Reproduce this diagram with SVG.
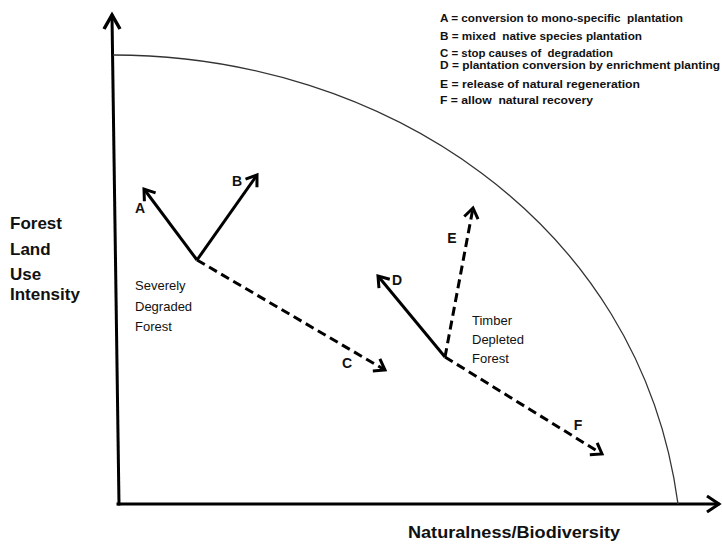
<svg xmlns="http://www.w3.org/2000/svg" width="722" height="546" viewBox="0 0 722 546">
<style>
.ax{stroke:#000;stroke-width:3;fill:none;stroke-linecap:square}
.arr{stroke:#000;stroke-width:3;fill:none}
.dash{stroke-dasharray:9,5}
.curve{stroke:#333;stroke-width:1.3;fill:none}
.lbl{font-family:"Liberation Sans",Arial,sans-serif;font-size:14px;font-weight:bold;fill:#111;text-anchor:middle}
.node{font-family:"Liberation Sans",Arial,sans-serif;font-size:13px;fill:#111}
.axl{font-family:"Liberation Sans",Arial,sans-serif;font-size:17px;font-weight:bold;fill:#111}
.leg{font-family:"Liberation Sans",Arial,sans-serif;font-size:10px;font-weight:bold;fill:#111;white-space:pre}
</style>
<defs>
<marker id="head" markerUnits="userSpaceOnUse" markerWidth="30" markerHeight="30" refX="0" refY="0" viewBox="-15 -15 30 30" orient="auto" overflow="visible">
<path d="M-10,-7 L0,0 L-10,7" fill="none" stroke="#000" stroke-width="3" stroke-dasharray="none" stroke-linejoin="miter"/>
</marker>
</defs>
<rect width="722" height="546" fill="#fff"/>
<g id="axes">
<path class="ax" d="M119,504 L112,16"/>
<path d="M104,29 L112,15 L120,29" fill="none" stroke="#000" stroke-width="3.5"/>
<path class="ax" d="M118,504 L718,504"/>
<path d="M707,496 L719,504 L707,512" fill="none" stroke="#000" stroke-width="3"/>
<path id="frontier" class="curve" d="M113,55 C380,55 640,220 678,504"/>
</g>
<g id="axis-labels">
<text class="axl" x="10" y="229">Forest</text>
<text class="axl" x="10" y="255">Land</text>
<text class="axl" x="10" y="280">Use</text>
<text class="axl" x="10" y="300">Intensity</text>
<text class="axl" x="408" y="538" textLength="212" lengthAdjust="spacingAndGlyphs">Naturalness/Biodiversity</text>
</g>
<g id="legend" xml:space="preserve">
<text class="leg" x="440" y="21.5" textLength="243" lengthAdjust="spacingAndGlyphs">A = conversion to mono-specific  plantation</text>
<text class="leg" x="440" y="40" textLength="202" lengthAdjust="spacingAndGlyphs">B = mixed  native species plantation</text>
<text class="leg" x="440" y="57" textLength="173" lengthAdjust="spacingAndGlyphs">C = stop causes of  degradation</text>
<text class="leg" x="440" y="69" textLength="280" lengthAdjust="spacingAndGlyphs">D = plantation conversion by enrichment planting</text>
<text class="leg" x="440" y="88" textLength="200" lengthAdjust="spacingAndGlyphs">E = release of natural regeneration</text>
<text class="leg" x="440" y="104" textLength="153" lengthAdjust="spacingAndGlyphs">F = allow  natural recovery</text>
</g>
<g id="node-severely-degraded">
<text class="node" x="135" y="290">Severely</text>
<text class="node" x="135" y="311">Degraded</text>
<text class="node" x="135" y="331">Forest</text>
</g>
<g id="node-timber-depleted">
<text class="node" x="472" y="325">Timber</text>
<text class="node" x="472" y="344">Depleted</text>
<text class="node" x="472" y="363">Forest</text>
</g>
<g id="connectors">
<path id="arrow-A" class="arr" d="M197,260 L144,189" marker-end="url(#head)"/>
<path id="arrow-B" class="arr" d="M197,260 L257,175" marker-end="url(#head)"/>
<path id="arrow-C" class="arr dash" d="M197,260 L385,370" marker-end="url(#head)"/>
<path id="arrow-D" class="arr" d="M445,357 L378,276" marker-end="url(#head)"/>
<path id="arrow-E" class="arr dash" d="M445,357 L473,208" marker-end="url(#head)"/>
<path id="arrow-F" class="arr dash" d="M445,357 L602,454" marker-end="url(#head)"/>
</g>
<g id="connector-labels">
<text class="lbl" x="140" y="213">A</text>
<text class="lbl" x="237" y="186">B</text>
<text class="lbl" x="347" y="368">C</text>
<text class="lbl" x="397" y="285">D</text>
<text class="lbl" x="452" y="243">E</text>
<text class="lbl" x="578" y="430">F</text>
</g>
</svg>
